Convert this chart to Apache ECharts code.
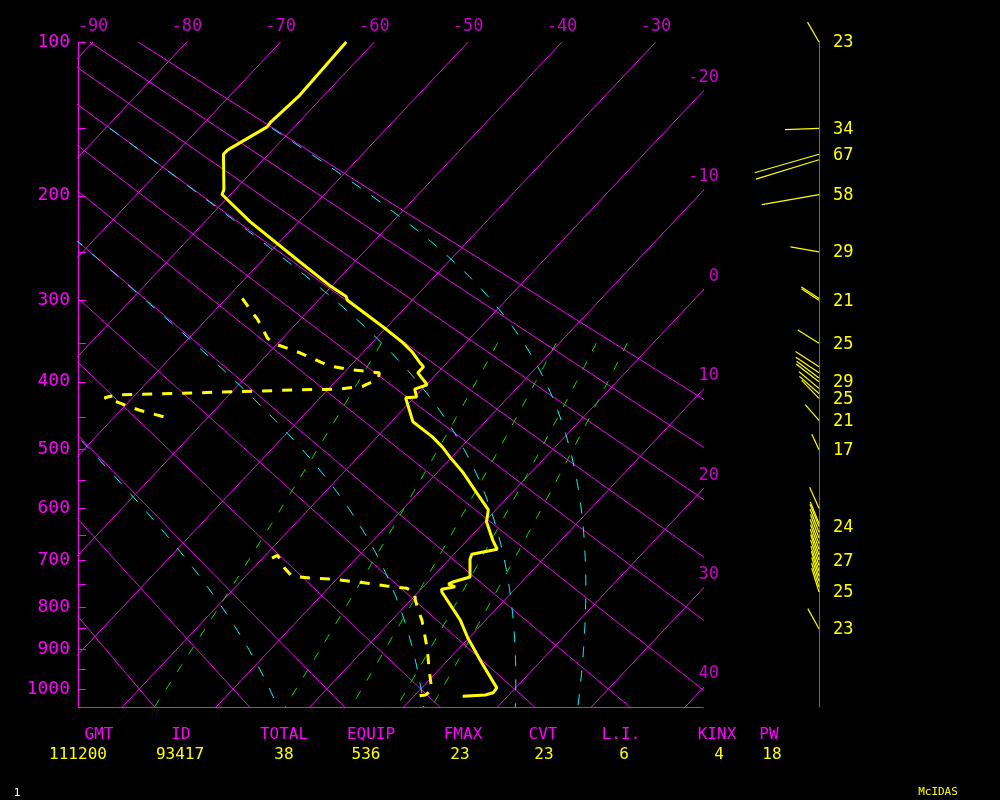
<!DOCTYPE html>
<html><head><meta charset="utf-8">
<script src="https://cdn.jsdelivr.net/npm/echarts@6/dist/echarts.min.js"></script>
<style>html,body{margin:0;background:#000;}#c{width:1000px;height:800px;}</style>
</head><body><div id="c"></div>
<script>
const tempP = [100,129,146,149,165,168,195,199,222,260,284,296,300,332,349,361,374,380,388,404,410,421,422,457,480,496,512,538,573,603,625,660,678,688,698,735,746,750,756,761,767,830,872,933,997,1010,1016,1019];
const tempT = [-63.0,-62.6,-63.0,-62.9,-64.8,-64.8,-61.2,-60.9,-55.2,-45.8,-40.3,-37.4,-36.9,-30.1,-26.8,-24.8,-23.0,-22.1,-22.1,-19.9,-20.8,-19.8,-20.9,-17.7,-14.1,-12.0,-10.2,-7.2,-3.7,-0.8,0.2,2.7,4.1,1.9,2.2,4.0,2.6,2.4,3.4,2.2,2.5,7.3,9.9,13.9,18.0,18.1,17.5,15.2];
const dewP = [298,322,344,351,362,379,384,388,396,406,410,411,415,418,422,429,440,451,null,696,690,716,733,737,739,744,748,754,759,767,785,812,830,853,901,951,1003,1016,1019];
const dewT = [-48.3,-44.5,-41.6,-40.2,-36.7,-32.2,-29.4,-26.2,-25.7,-26.6,-28.8,-32.9,-43.3,-51.9,-53.0,-51.0,-48.0,-44.3,null,-19.0,-18.7,-16.7,-15.1,-13.0,-10.7,-8.4,-6.3,-4.0,-1.6,-0.4,0.5,2.1,3.2,4.4,6.8,9.0,11.3,11.1,10.3];
const windP   = [100,150,168,172,199,250,298,300,350,380,388,395,400,409,416,423,455,500,600,628,634,645,656,667,678,689,700,711,722,733,744,756,767,850];
const windDir = [330,268,254,253,260,280,303,303,302,303,304,307,308,310,311,316,319,335,336,338,338,339,340,340,341,341,342,342,342,343,343,343,343,331];
const windSpd = [23,34,67,66,58,29,21,21,25,28,28,28,29,26,26,25,21,17,23,23,24,25,25,26,26,27,27,27,26,26,25,25,25,23];
const windLabelP = [100,150,168,199,250,300,350,400,423,455,500,634,700,767,850];
// ---------------- diagram constants ----------------
const isoTemps = [-90,-80,-70,-60,-50,-40,-30,-20,-10,0,10,20,30,40];
const dryThetas = [-20,-10,0,10,20,30,40,50,60,70,80,90];
const moistThetaE = [0,30,60,90];
const mixRatios = [1,3,5,7,9];
const pressureTicks = [100,150,200,250,300,350,400,450,500,550,600,650,700,750,800,850,900,950,1000];
const pressureLabels = [100,200,300,400,500,600,700,800,900,1000];
const statNames = ['GMT','ID','TOTAL','EQUIP','FMAX','CVT','L.I.','KINX','PW'];
const statValues = ['111200','93417','38','536','23','23','6','4','18'];
const statNameX = [99,181,284,371,463,543,621,717,769];
const statValueX = [78,180,284,366,460,544,624,719,772];

// ---------------- geometry ----------------
const K = 0.275;
const yOf = p => Math.pow(p, K);
const PLOT_L = 78, PLOT_T = 42, PLOT_W = 625, PLOT_H = 665;
const PX_PER_Y = 206.36, PX_PER_DEG = 9.38, ISO_SLOPE = 1.0601;
const Y_TOP = yOf(100);
const Y_BOT = Y_TOP + PLOT_H / PX_PER_Y;
const SKEW = PX_PER_Y / (PX_PER_DEG * ISO_SLOPE);
const X_MIN = -90 - 15 / PX_PER_DEG;
const X_MAX = X_MIN + PLOT_W / PX_PER_DEG;
const P_BOT = Math.pow(Y_BOT, 1 / K);
const skewX = (T, p) => T - SKEW * (yOf(p) - Y_TOP);
const pt = (T, p) => [skewX(T, p), yOf(p)];

const MAG = '#ff00ff', YEL = '#ffff00', CYA = '#00ffff', GRN = '#00e000';
const FONT = 'DejaVu Sans Mono';

function range(a, b, s) { const r = []; for (let v = a; v <= b + 1e-9; v += s) r.push(v); if (r[r.length-1] < b) r.push(b); return r; }

function thetaE(Tk, p) {
  const tc = Tk - 273.15;
  const es = 6.112 * Math.exp(17.67 * tc / (tc + 243.5));
  if (es >= p * 0.9) return 1e9;
  const rs = 0.622 * es / (p - es);
  return Tk * Math.pow(1000 / p, 0.286) * Math.exp(2.5e6 * rs / (1004 * Tk));
}
function moistT(te, p) {
  let lo = 120, hi = 340;
  for (let i = 0; i < 60; i++) { const m = (lo + hi) / 2; if (thetaE(m, p) > te) hi = m; else lo = m; }
  return (lo + hi) / 2 - 273.15;
}
function dewFromMix(r, p) { const e = r * p / (622 + r); const l = Math.log(e / 6.112); return 243.5 * l / (17.67 - l); }

const series = [];
function lineSeries(data, color, width, type, z) {
  series.push({ type: 'line', xAxisIndex: 0, yAxisIndex: 0, data, showSymbol: false, symbol: 'none', clip: true,
    silent: true, animation: false, z, lineStyle: { color, width, type } });
}
isoTemps.forEach(T => lineSeries([pt(T, 100), pt(T, P_BOT)], MAG, 1, 'solid', 1));
dryThetas.forEach(th => lineSeries(range(100, P_BOT, 5).map(p => pt((th + 273.15) * Math.pow(p / 1000, 0.286) - 273.15, p)), MAG, 1, 'solid', 1));
moistThetaE.forEach(te => lineSeries(range(150, P_BOT, 5).map(p => pt(moistT(te + 273.15, p), p)), CYA, 1, [11, 13], 2));
mixRatios.forEach(r => lineSeries(range(350, P_BOT, 10).map(p => pt(dewFromMix(r, p), p)), GRN, 1, [9, 12], 2));
lineSeries(tempP.map((p, i) => pt(tempT[i], p)), YEL, 3, 'solid', 5);
let seg = [];
dewP.forEach((p, i) => {
  if (p == null || dewT[i] == null) { if (seg.length) lineSeries(seg, YEL, 3, [10, 10], 5); seg = []; }
  else seg.push(pt(dewT[i], p));
});
if (seg.length) lineSeries(seg, YEL, 3, [10, 10], 5);

const labTop = isoTemps.filter(T => skewX(T, 100) <= X_MAX - 3).map(T => [T, Y_TOP, T]);
const labRight = isoTemps.filter(T => skewX(T, 100) > X_MAX - 3).map(T => [X_MAX, Y_TOP + (T - X_MAX) / SKEW, T]);
series.push({ type: 'scatter', xAxisIndex: 0, yAxisIndex: 0, data: labTop, symbolSize: 1, clip: false, silent: true, animation: false,
  itemStyle: { color: 'rgba(0,0,0,0)' },
  label: { show: true, position: 'inside', offset: [0, -15], color: MAG, fontSize: 17, fontFamily: FONT, formatter: d => String(d.value[2]) } });
series.push({ type: 'scatter', xAxisIndex: 0, yAxisIndex: 0, data: labRight, symbolSize: 1, clip: false, silent: true, animation: false,
  itemStyle: { color: 'rgba(0,0,0,0)' },
  label: { show: true, position: 'inside', align: 'right', offset: [16, -14], color: MAG, fontSize: 17, fontFamily: FONT, formatter: d => String(d.value[2]) } });

const windData = windP.map((p, i) => [yOf(p), windDir[i], windSpd[i], windLabelP.indexOf(p) >= 0 ? 1 : 0]);
series.push({ type: 'custom', xAxisIndex: 1, yAxisIndex: 1, data: windData, silent: true, animation: false, z: 5,
  renderItem: (params, api) => {
    const b = api.coord([0, api.value(0)]);
    const a = api.value(1) * Math.PI / 180, s = api.value(2);
    const kids = [{ type: 'line', shape: { x1: b[0], y1: b[1], x2: b[0] + s * Math.sin(a), y2: b[1] - s * Math.cos(a) },
      style: { stroke: YEL, lineWidth: 1.2 } }];
    if (api.value(3)) kids.push({ type: 'text', x: b[0] + 14, y: b[1] + 1,
      style: { text: String(s), fill: YEL, font: '17px ' + FONT, align: 'left', verticalAlign: 'middle' } });
    return { type: 'group', children: kids };
  } });

const graphics = [];
statNames.forEach((n, i) => {
  graphics.push({ type: 'text', x: statNameX[i], y: 735, style: { text: n, fill: MAG, font: '16px ' + FONT, align: 'center', verticalAlign: 'middle' } });
  graphics.push({ type: 'text', x: statValueX[i], y: 755, style: { text: statValues[i], fill: YEL, font: '16px ' + FONT, align: 'center', verticalAlign: 'middle' } });
});
graphics.push({ type: 'text', x: 938, y: 792, style: { text: 'McIDAS', fill: YEL, font: '11px ' + FONT, align: 'center', verticalAlign: 'middle' } });
graphics.push({ type: 'text', x: 17, y: 793, style: { text: '1', fill: '#ffffff', font: '11px ' + FONT, align: 'center', verticalAlign: 'middle' } });

const chart = echarts.init(document.getElementById('c'), null, { renderer: 'canvas' });
chart.setOption({
  backgroundColor: '#000',
  animation: false,
  grid: [
    { left: PLOT_L, top: PLOT_T, width: PLOT_W, height: PLOT_H },
    { left: 819, top: PLOT_T, width: 100, height: PLOT_H }
  ],
  xAxis: [
    { type: 'value', gridIndex: 0, min: X_MIN, max: X_MAX, axisLine: { show: true, onZero: false, lineStyle: { color: MAG, width: 1 } },
      axisTick: { show: false }, axisLabel: { show: false }, splitLine: { show: false } },
    { type: 'value', gridIndex: 1, min: 0, max: 100, show: false }
  ],
  yAxis: [
    { type: 'value', gridIndex: 0, inverse: true, min: Y_TOP, max: Y_BOT,
      axisLine: { show: true, onZero: false, lineStyle: { color: MAG, width: 1 } },
      axisTick: { show: true, inside: true, length: 8, customValues: pressureTicks.map(yOf), lineStyle: { color: MAG, width: 1 } },
      axisLabel: { show: true, customValues: pressureLabels.map(yOf), margin: 8, color: MAG, fontSize: 18, fontFamily: FONT,
        formatter: v => String(Math.round(Math.pow(v, 1 / K))) },
      splitLine: { show: false } },
    { type: 'value', gridIndex: 1, inverse: true, min: Y_TOP, max: Y_BOT,
      axisLine: { show: true, onZero: false, lineStyle: { color: MAG, width: 1 } },
      axisTick: { show: false }, axisLabel: { show: false }, splitLine: { show: false } }
  ],
  series,
  graphic: graphics
});
</script></body></html>
